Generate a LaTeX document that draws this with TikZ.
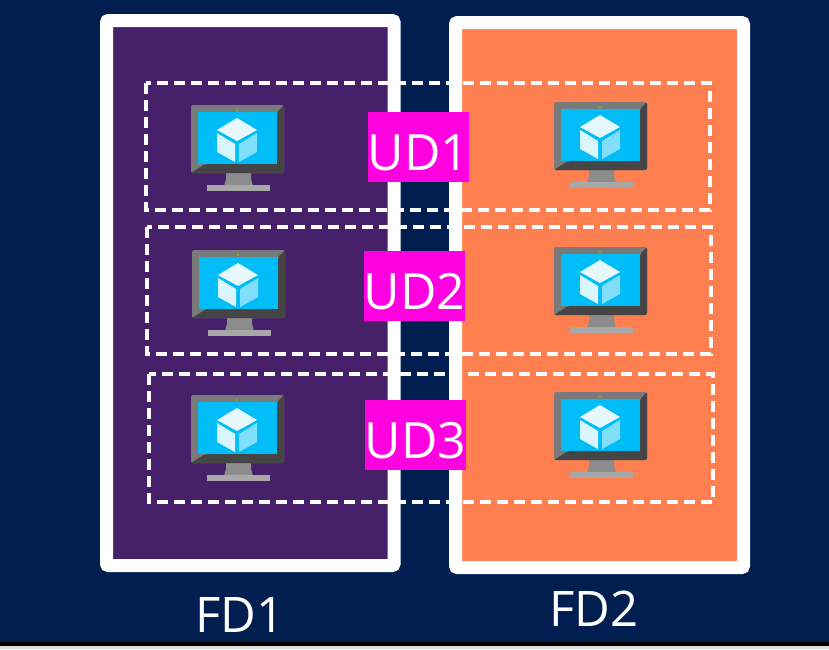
\documentclass[tikz,border=0pt]{standalone}
\usepackage{fontspec}
\setmainfont{Open Sans}
\definecolor{navy}{HTML}{001F50}
\definecolor{plum}{HTML}{46216A}
\definecolor{coral}{HTML}{FF7F50}
\definecolor{pinkbox}{HTML}{FF00E0}
\definecolor{skyscreen}{HTML}{00BCF7}
\definecolor{bezel}{HTML}{7A7A7A}
\definecolor{bezeldark}{HTML}{454545}
\definecolor{standgrey}{HTML}{8C8C8C}
\definecolor{basegrey}{HTML}{A8A8A8}
\newcommand{\lowered}[1]{\raisebox{-23.5pt}[20pt][20pt]{#1}}
\tikzset{
  x=1pt,y=-1pt,
  fdframe/.style={draw=white,line width=13pt,rounded corners=2pt},
  udbox/.style={draw=white,dashed,line width=3.4pt,dash pattern=on 11pt off 6pt},
  udlabel/.style={fill=pinkbox,text=white,font=\fontsize{50}{50}\selectfont,inner sep=0pt,minimum width=101pt,minimum height=70pt,anchor=center},
  fdlabel/.style={text=white,font=\fontsize{49}{49}\selectfont,inner sep=0pt,anchor=center},
  monitor/.pic={
    \fill[standgrey] (35,68) -- (60,68) -- (60,74) -- (62,81) -- (33,81) -- (35,74) -- cycle;
    \fill[basegrey] (16,80) -- (79,80) -- (79,86) -- (16,86) -- cycle;
    \fill[bezel,rounded corners=2pt] (0,0) -- (93,0) -- (93,68) -- (0,68) -- cycle;
    \fill[bezeldark,rounded corners=2pt] (93,0) -- (93,68) -- (0,68) -- (14,59) -- (86,59) -- (86,7) -- cycle;
    \fill[skyscreen] (7,7) -- (86,7) -- (86,59) -- (7,59) -- cycle;
    \fill[olive!70!yellow] (46,5) circle[radius=1.1pt];
    \fill[white!90!skyscreen] (46,13) -- (66,25) -- (46,36) -- (26,25) -- cycle;
    \fill[white!85!skyscreen] (26,28) -- (44,39) -- (44,57) -- (26,47) -- cycle;
    \fill[white!50!skyscreen] (66,28) -- (66,47) -- (48,57) -- (48,39) -- cycle;
  }
}
\begin{document}
\begin{tikzpicture}
\useasboundingbox (0,0) rectangle (829,649);
\fill[navy] (0,0) rectangle (829,642);
\fill[black] (0,642) rectangle (829,645.5);
\fill[black!12] (0,645.5) rectangle (829,649);
% fault domains
\fill[plum] (106.5,20.5) rectangle (394,565.5);
\draw[fdframe] (106.5,20.5) rectangle (394,565.5);
\fill[coral] (455.5,22.5) rectangle (743.5,567.5);
\draw[fdframe] (455.5,22.5) rectangle (743.5,567.5);
% monitors
\pic at (191,105) {monitor};
\pic at (554,102) {monitor};
\pic at (192,250) {monitor};
\pic at (554,247) {monitor};
\pic at (191,395) {monitor};
\pic at (554,392) {monitor};
% update domains
\draw[udbox] (146,83) rectangle (710,210);
\draw[udbox] (147,227) rectangle (711,354);
\draw[udbox] (149,374) rectangle (713,502);
\node[udlabel] (ud1) at (418.5,147) {\lowered{UD1}};
\node[udlabel] (ud2) at (414.5,285.5) {\lowered{UD2}};
\node[udlabel] (ud3) at (415.5,435) {\lowered{UD3}};
\node[fdlabel] (fd1) at (240,615) {FD1};
\node[fdlabel] (fd2) at (594,609) {FD2};
\end{tikzpicture}
\end{document}
